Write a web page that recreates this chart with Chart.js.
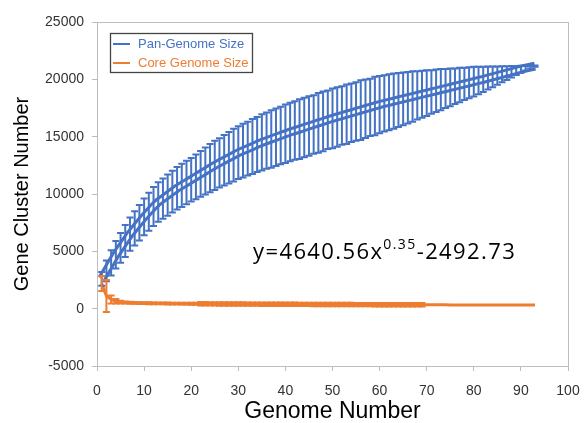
<!DOCTYPE html>
<html>
<head>
<meta charset="utf-8">
<script src="https://cdn.jsdelivr.net/npm/chart.js@4.4.1/dist/chart.umd.min.js"></script>
<style>
  html, body { margin: 0; padding: 0; background: #fff; }
  #wrap { width: 584px; height: 423px; position: relative; }
</style>
</head>
<body>
<div id="wrap"><canvas id="panChart"></canvas></div>
<script>
// genome numbers
var genomes = [1,2,3,4,5,6,7,8,9,10,11,12,13,14,15,16,17,18,19,20,
  21,22,23,24,25,26,27,28,29,30,31,32,33,34,35,36,37,38,39,40,
  41,42,43,44,45,46,47,48,49,50,51,52,53,54,55,56,57,58,59,60,
  61,62,63,64,65,66,67,68,69,70,71,72,73,74,75,76,77,78,79,80,
  81,82,83,84,85,86,87,88,89,90,91,92,93];

// pan-genome size, mean and std
var panMean = [2600,3300,4000,4700,5300,5900,6500,7000,7500,8000,
  8450,8900,9300,9600,9900,10200,10500,10750,11000,11250,
  11500,11750,12000,12250,12500,12720,12940,13160,13380,13600,
  13780,13960,14140,14320,14500,14650,14800,14950,15100,15250,
  15400,15530,15660,15800,15930,16070,16200,16330,16470,16600,
  16720,16840,16960,17080,17200,17320,17440,17560,17680,17800,
  17900,18000,18100,18200,18300,18400,18500,18600,18700,18800,
  18900,19000,19100,19200,19300,19400,19500,19600,19700,19800,
  19900,20000,20110,20220,20330,20440,20550,20660,20770,20880,
  20970,21060,21150];
var panStd = [600,900,1100,1200,1300,1400,1450,1500,1550,1600,
  1650,1700,1720,1750,1800,1820,1850,1880,1900,1900,
  1950,2000,2050,2100,2150,2150,2200,2250,2300,2300,
  2350,2350,2400,2400,2450,2450,2500,2500,2500,2550,
  2550,2550,2600,2600,2600,2550,2600,2600,2550,2600,
  2600,2550,2600,2550,2550,2600,2550,2500,2550,2500,
  2450,2450,2400,2350,2300,2250,2200,2100,2050,2000,
  1900,1850,1800,1700,1650,1550,1500,1400,1350,1300,
  1200,1100,1000,900,800,700,600,500,400,300,
  200,120,60];

// core genome size, mean and std
var coreMean = [2200,1100,800,650,580,540,515,500,490,480,
  472,466,460,455,450,446,442,438,435,432,
  429,426,423,420,417,414,411,408,405,402,
  400,398,396,394,392,390,388,386,384,382,
  380,378,376,374,372,370,368,366,364,362,
  360,358,357,356,354,352,351,350,348,347,
  346,344,343,342,341,340,338,337,336,335,
  334,333,332,331,330,329,328,327,326,325,
  324,323,322,321,320,319,318,317,316,315,
  314,313,312];
var coreStd = [650,1400,350,200,120,80,80,80,80,80,
  80,80,80,80,80,80,80,80,80,80,
  80,150,150,150,150,150,150,150,150,150,
  150,150,150,150,150,150,150,150,150,150,
  150,150,150,150,150,150,150,150,150,150,
  150,150,150,150,150,150,150,150,150,150,
  150,150,150,150,150,150,150,150,150,0,
  0,0,0,0,0,0,0,0,0,0,
  0,0,0,0,0,0,0,0,0,0,
  0,0,0];

var xTicks = [0,10,20,30,40,50,60,70,80,90,100];
var yTicks = [-5000,0,5000,10000,15000,20000,25000];

var BLUE = '#4472C4';
var ORANGE = '#ED7D31';
var FONT = "'Liberation Sans', Arial, sans-serif";

function pts(ys) {
  return genomes.map(function(g, i) { return {x: g, y: ys[i]}; });
}

// error bars, drawn from the scales
var errorBars = {
  id: 'errorBars',
  afterDatasetsDraw: function(chart) {
    var ctx = chart.ctx;
    var xs = chart.scales.x, ys = chart.scales.y;
    chart.data.datasets.forEach(function(ds) {
      if (!ds.errors) return;
      ctx.save();
      ctx.strokeStyle = ds.errColor;
      ctx.lineWidth = 2;
      ds.data.forEach(function(p, i) {
        var e = ds.errors[i];
        if (!e) return;
        var px = xs.getPixelForValue(p.x);
        var top = ys.getPixelForValue(p.y + e);
        var bot = ys.getPixelForValue(p.y - e);
        ctx.beginPath();
        ctx.moveTo(px, top); ctx.lineTo(px, bot);
        ctx.moveTo(px - 3.5, top); ctx.lineTo(px + 3.5, top);
        ctx.moveTo(px - 3.5, bot); ctx.lineTo(px + 3.5, bot);
        ctx.stroke();
      });
      ctx.restore();
    });
  }
};

// frame, legend box and fitted equation
var extras = {
  id: 'extras',
  afterDraw: function(chart) {
    var ctx = chart.ctx, a = chart.chartArea;
    ctx.save();
    ctx.strokeStyle = '#bdbdbd';
    ctx.lineWidth = 1;
    ctx.strokeRect(a.left + 0.5, a.top + 0.5, a.right - a.left, a.bottom - a.top);

    // legend
    ctx.strokeStyle = '#444';
    ctx.lineWidth = 1.3;
    ctx.strokeRect(110.5, 33.5, 142, 39);
    var items = [{t: 'Pan-Genome Size', c: BLUE}, {t: 'Core Genome Size', c: ORANGE}];
    ctx.font = '13px ' + FONT;
    ctx.textBaseline = 'middle';
    items.forEach(function(it, i) {
      var y = 44 + i * 19;
      ctx.strokeStyle = it.c;
      ctx.lineWidth = 2;
      ctx.beginPath(); ctx.moveTo(113, y); ctx.lineTo(130, y); ctx.stroke();
      ctx.fillStyle = it.c;
      ctx.fillText(it.t, 138, y);
    });

    // equation
    ctx.fillStyle = '#000';
    ctx.textBaseline = 'alphabetic';
    ctx.letterSpacing = '1.4px';
    var x = 253, base = 259;
    ctx.font = "22px 'Open Sans', sans-serif";
    ctx.fillText('y=4640.56x', x, base);
    x += ctx.measureText('y=4640.56x').width;
    ctx.font = "14px 'Open Sans', sans-serif";
    ctx.fillText('0.35', x, base - 10);
    x += ctx.measureText('0.35').width;
    ctx.font = "22px 'Open Sans', sans-serif";
    ctx.fillText('-2492.73', x, base);
    ctx.restore();
  }
};

var ctx = document.getElementById('panChart');
var panChart = new Chart(ctx, {
  type: 'line',
  data: {
    datasets: [{
      label: 'Pan-Genome Size',
      data: pts(panMean),
      borderColor: BLUE,
      borderWidth: 9,
      pointRadius: 0,
      errors: panStd,
      errColor: BLUE,
      order: 3
    }, {
      label: '',
      data: pts(panMean),
      borderColor: '#fff',
      borderWidth: 3,
      pointRadius: 0,
      order: 2
    }, {
      label: 'Core Genome Size',
      data: pts(coreMean),
      borderColor: ORANGE,
      borderWidth: 3,
      pointRadius: 0,
      errors: coreStd,
      errColor: ORANGE,
      order: 1
    }]
  },
  options: {
    responsive: true,
    maintainAspectRatio: false,
    animation: false,
    layout: { padding: { top: 22, right: 16, left: 0, bottom: 0 } },
    plugins: { legend: { display: false }, tooltip: { enabled: false } },
    scales: {
      x: {
        type: 'linear', min: 0, max: 100,
        afterBuildTicks: function(s) { s.ticks = xTicks.map(function(v) { return {value: v}; }); },
        afterFit: function(s) { s.height = 57; s.paddingRight = 11; s.paddingLeft = 5; },
        ticks: { font: { size: 14, family: FONT }, color: '#333', padding: 12, maxRotation: 0,
                 callback: function(v) { return String(v); } },
        grid: { drawOnChartArea: false, color: '#bdbdbd', tickLength: 5 },
        border: { color: '#bdbdbd' },
        title: { display: true, text: 'Genome Number', color: '#000',
                 font: { size: 23, family: FONT, lineHeight: 1 }, padding: { top: 0, bottom: 0 } }
      },
      y: {
        min: -5000, max: 25000,
        afterBuildTicks: function(s) { s.ticks = yTicks.map(function(v) { return {value: v}; }); },
        afterFit: function(s) { s.width = 97; },
        ticks: { font: { size: 14, family: FONT }, color: '#333', padding: 8,
                 callback: function(v) { return String(v); } },
        grid: { drawOnChartArea: false, color: '#bdbdbd', tickLength: 5 },
        border: { color: '#bdbdbd' },
        title: { display: true, text: 'Gene Cluster Number', color: '#000',
                 font: { size: 20, family: FONT }, padding: { top: 10, bottom: 0 } }
      }
    }
  },
  plugins: [errorBars, extras]
});
</script>
</body>
</html>
